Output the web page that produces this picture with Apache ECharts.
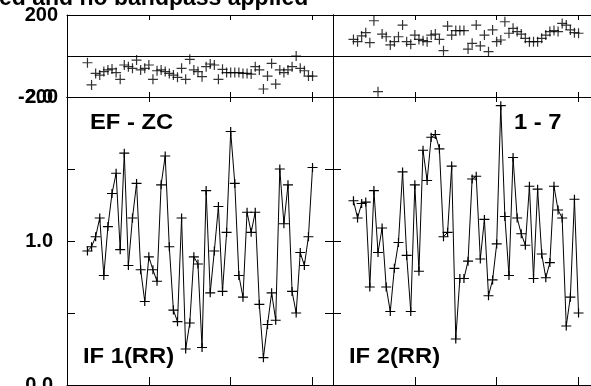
<!DOCTYPE html>
<html>
<head>
<meta charset="utf-8">
<script src="https://cdn.jsdelivr.net/npm/echarts@6/dist/echarts.min.js"></script>
<style>
html, body { margin: 0; padding: 0; background: #fff; }
#chart { width: 591px; height: 386px; }
</style>
</head>
<body>
<div id="chart"></div>
<script>
// phase (deg) and amplitude per sample, left panel = IF 1(RR), right = IF 2(RR)
var phase1 = [-33, -141, -85, -93, -76, -68, -63, -81, -114, -44, -52, -60, -20, -68, -60, -44,
	-114, -72, -68, -76, -85, -93, -104, -60, -114, -16, -68, -76, -101, -52, -39, -44, -114, -65,
	-81, -81, -81, -81, -85, -85, -88, -52, -68, -161, -98, -36, -137, -68, -81, -68, -52, 0, -60,
	-72, -98, -98];
var amp1 = [0.93, 0.96, 1.03, 1.16, 0.76, 1.10, 1.33, 1.47, 0.94, 1.61, 0.83, 1.16, 1.40, 0.80,
	0.58, 0.89, 0.80, 0.72, 1.39, 1.59, 0.96, 0.52, 0.44, 1.16, 0.25, 0.43, 0.89, 0.84, 0.26, 1.35,
	0.64, 0.93, 1.24, 0.65, 1.06, 1.76, 1.40, 0.76, 0.61, 1.20, 1.06, 1.20, 0.56, 0.19, 0.42, 0.64,
	0.45, 1.50, 1.12, 1.39, 0.65, 0.50, 0.92, 0.83, 1.03, 1.51];
var phase2 = [81, 70, 98, 114, 65, 172, -174, 107, 94, 54, 70, 94, 151, 70, 57, 102, 81, 75, 70,
	102, 107, 81, 26, 146, 102, 124, 124, 124, 34, 62, 151, 49, 102, 21, 127, 70, 78, 167, 111, 135,
	119, 107, 86, 70, 70, 70, 86, 102, 119, 124, 119, 159, 151, 127, 114, 111];
var amp2 = [1.28, 1.16, 1.26, 1.27, 0.68, 1.35, 0.92, 1.09, 0.68, 0.51, 0.81, 0.99, 1.48, 0.90,
	0.51, 1.39, 0.79, 1.63, 1.42, 1.72, 1.74, 1.64, 1.03, 1.06, 1.52, 0.32, 0.74, 0.74, 0.86, 1.43,
	1.45, 0.875, 1.15, 0.62, 0.73, 0.98, 1.94, 1.17, 0.76, 1.58, 1.16, 1.05, 0.97, 1.38, 0.74, 1.36,
	0.91, 0.745, 0.85, 1.38, 1.215, 1.16, 0.41, 0.61, 1.29, 0.50];
var xTicks = [15, 35, 55];
var phaseTicks = [-200, 0, 200];
var ampTicks = [0, 0.5, 1, 1.5, 2];

var FONT = '"Liberation Sans", Arial, sans-serif';
var PLUS = 'path://M0,4.4H10V5.6H0Z M4.4,0H5.6V10H4.4Z';

var myChart = echarts.init(document.getElementById('chart'));

function pts(arr) {
	return arr.map(function (v, i) { return [i, v]; });
}

function xAx(g, pos, len) {
	return {
		type: 'value', gridIndex: g, position: pos, min: -5, max: 60,
		axisLine: { show: true, onZero: false, lineStyle: { color: '#000', width: 1 } },
		axisTick: { show: true, inside: true, length: len, customValues: xTicks, lineStyle: { color: '#000' } },
		axisLabel: { show: false },
		splitLine: { show: false }
	};
}

function yAx(g, pos, isPhase, labels) {
	return {
		type: 'value', gridIndex: g, position: pos,
		min: isPhase ? -200 : 0, max: isPhase ? 200 : 2,
		axisLine: { show: true, onZero: false, lineStyle: { color: '#000', width: 1 } },
		axisTick: { show: true, inside: true, length: isPhase ? 4 : 8,
			customValues: isPhase ? phaseTicks : ampTicks, lineStyle: { color: '#000' } },
		axisLabel: {
			show: labels, margin: isPhase ? 9 : 14,
			customValues: isPhase ? [-200, 200] : [0, 1, 2],
			formatter: function (v) { return isPhase ? String(v) : v.toFixed(1); },
			color: '#000', fontSize: 20, fontWeight: 'bold', fontFamily: FONT
		},
		splitLine: { show: isPhase, lineStyle: { color: '#000', width: 1 } }
	};
}

var grids = [
	{ left: 67, top: 15, width: 266, height: 82 },
	{ left: 67, top: 97, width: 266, height: 288 },
	{ left: 333, top: 15, width: 266, height: 82 },
	{ left: 333, top: 97, width: 266, height: 288 }
];
grids.forEach(function (gr) { gr.outerBoundsMode = 'none'; gr.containLabel = false; });

var xAxes = [], yAxes = [];
for (var g = 0; g < 4; g++) {
	var isPhase = (g % 2 === 0);
	xAxes.push(xAx(g, 'bottom', isPhase ? 5 : 8));
	xAxes.push(xAx(g, 'top', 5));
	yAxes.push(yAx(g, 'left', isPhase, g < 2));
	yAxes.push(yAx(g, 'right', isPhase, false));
}

function phaseSeries(g, arr) {
	return {
		type: 'scatter', xAxisIndex: 2 * g, yAxisIndex: 2 * g, data: pts(arr),
		symbol: PLUS, symbolSize: [10, 10], itemStyle: { color: '#000' }, z: 5
	};
}
function ampSeries(g, arr) {
	return {
		type: 'line', xAxisIndex: 2 * g, yAxisIndex: 2 * g, data: pts(arr),
		symbol: PLUS, symbolSize: [10, 9], showSymbol: true,
		itemStyle: { color: '#000' }, lineStyle: { color: '#000', width: 1 }, z: 5
	};
}

function label(x, y, text) {
	return {
		type: 'text', x: x, y: y, scaleX: 1.08,
		style: { text: text, fill: '#000', font: 'bold 22px ' + FONT, verticalAlign: 'middle' }
	};
}

myChart.setOption({
	animation: false,
	backgroundColor: '#fff',
	grid: grids,
	xAxis: xAxes,
	yAxis: yAxes,
	series: [
		phaseSeries(0, phase1), ampSeries(1, amp1),
		phaseSeries(2, phase2), ampSeries(3, amp2)
	],
	graphic: [
		{ type: 'text', x: -1, y: 10, style: { text: 'ed and no bandpass applied', fill: '#000',
			font: 'bold 23px ' + FONT, verticalAlign: 'bottom' } },
		label(90, 123, 'EF - ZC'),
		label(514, 123, '1 - 7'),
		label(83, 357, 'IF 1(RR)'),
		label(349, 357, 'IF 2(RR)')
	]
});
</script>
</body>
</html>
